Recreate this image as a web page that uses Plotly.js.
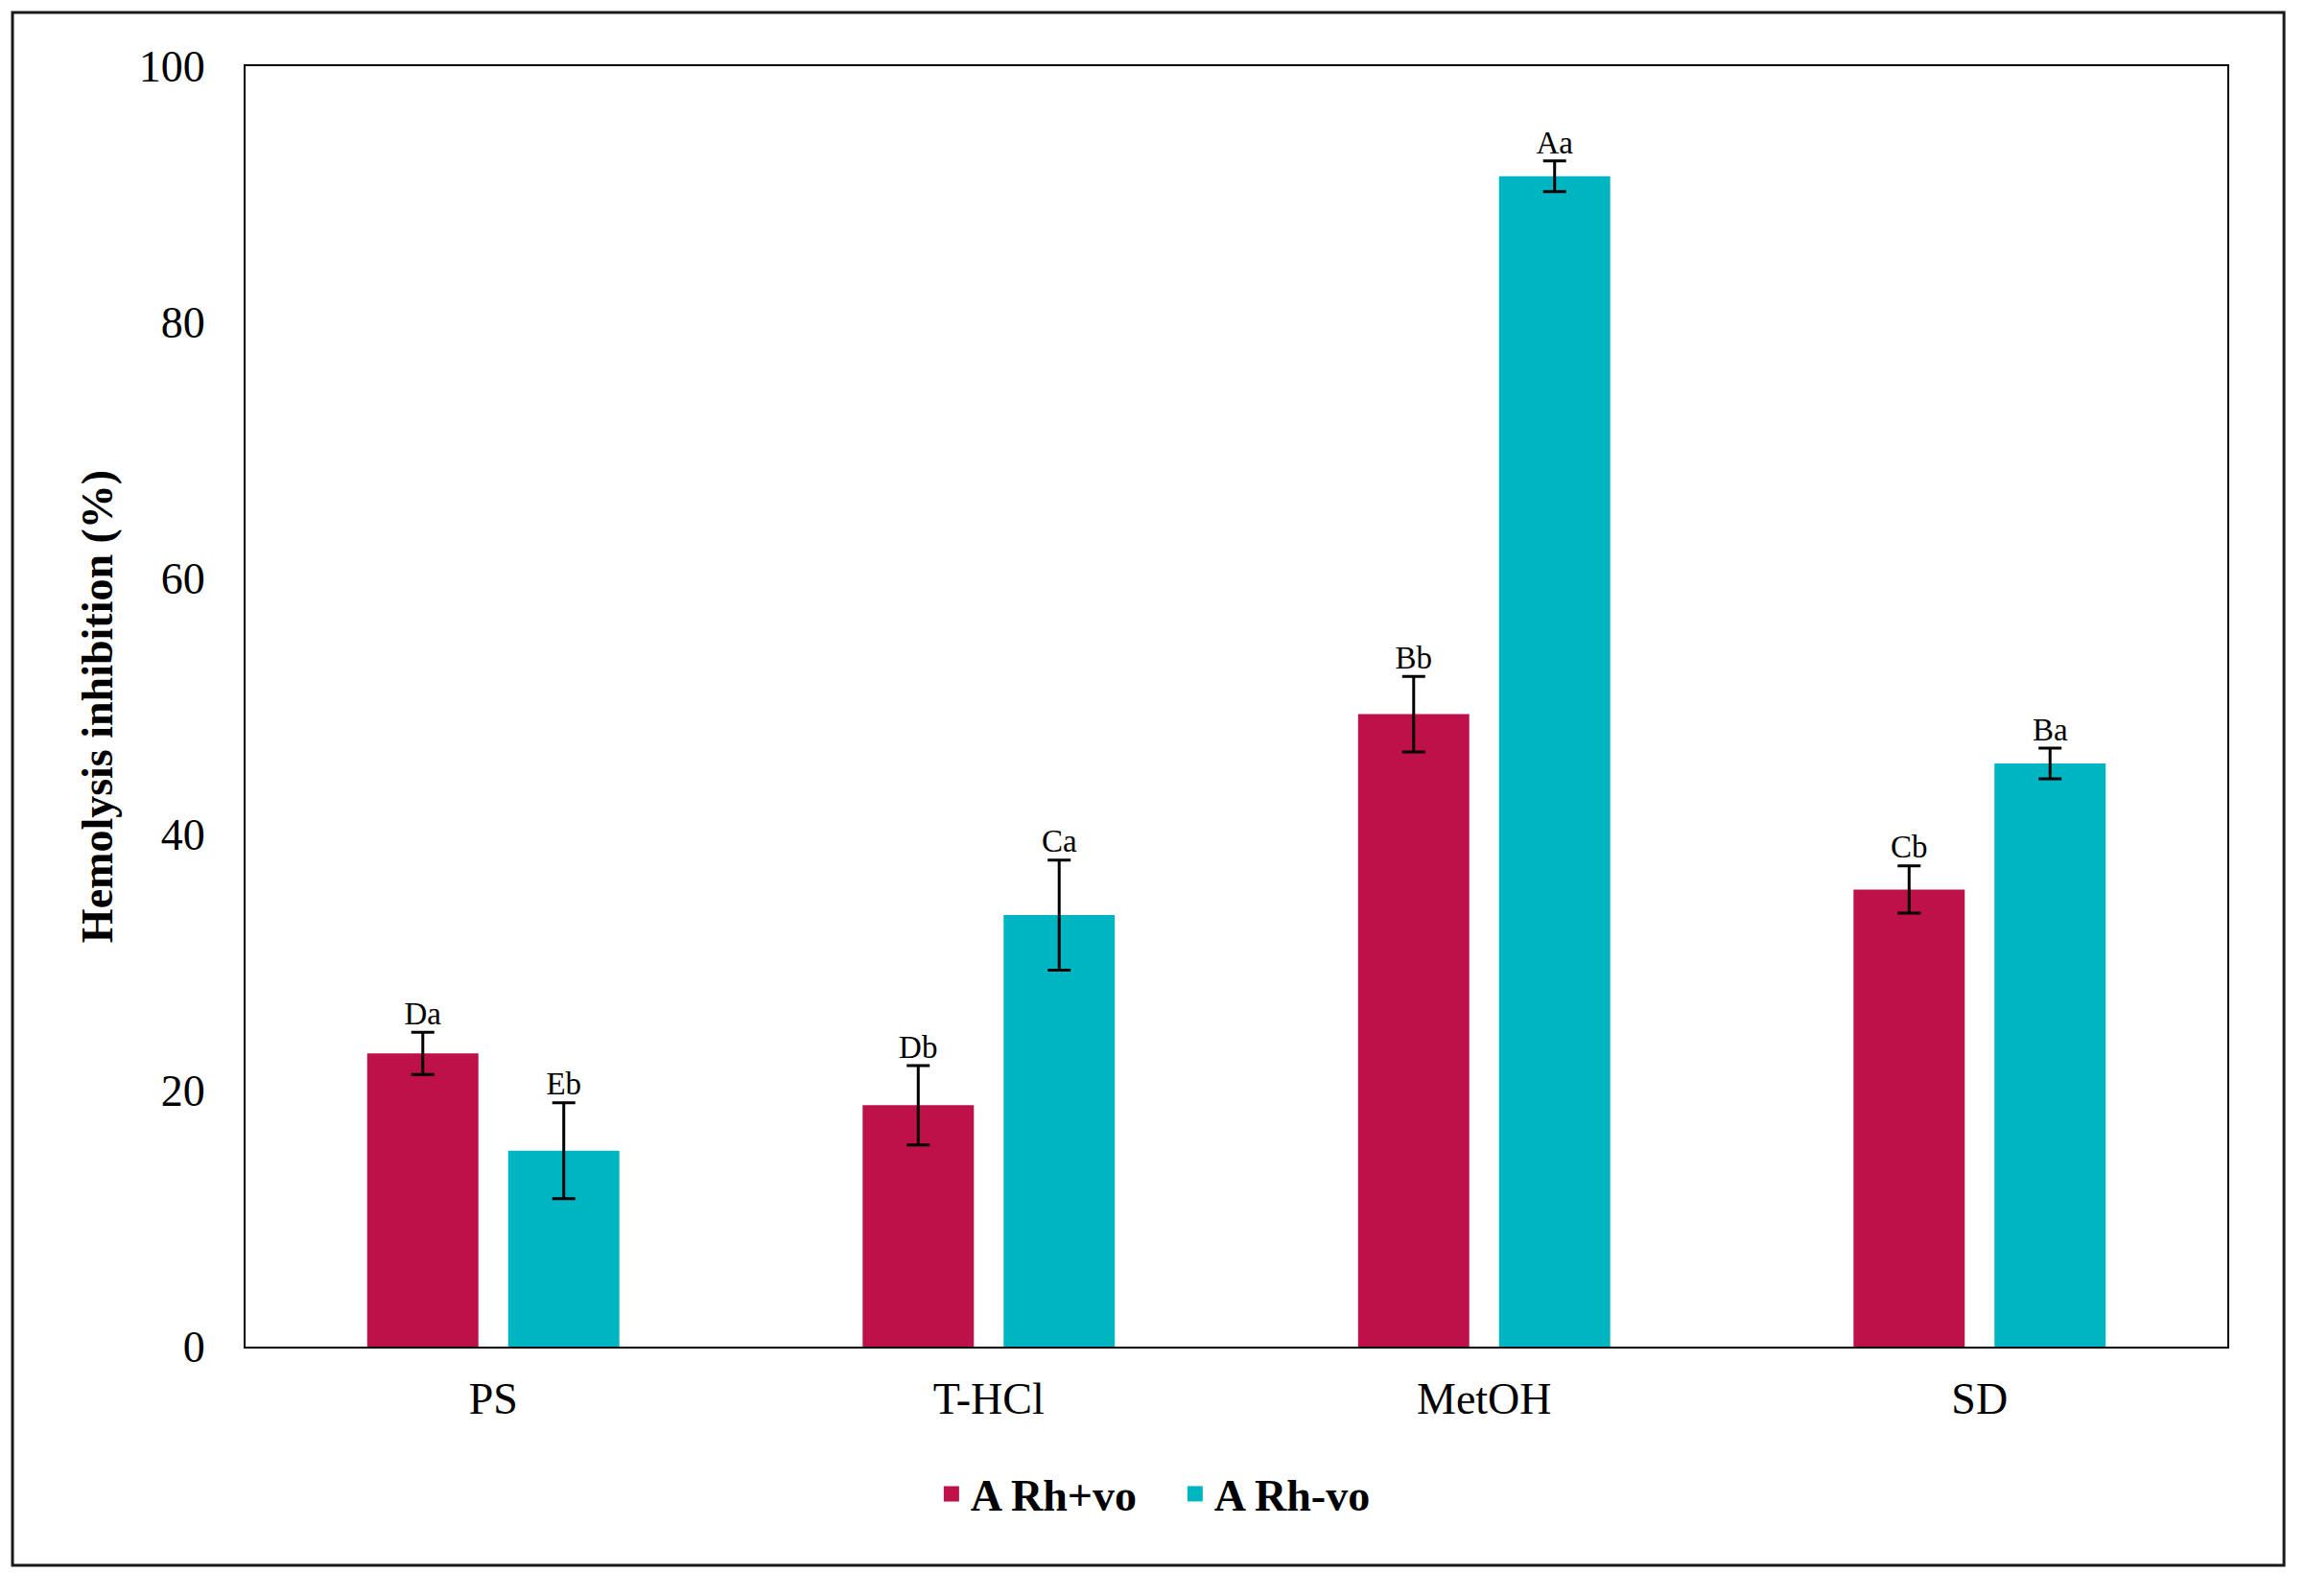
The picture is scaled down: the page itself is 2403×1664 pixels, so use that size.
<!DOCTYPE html>
<html>
<head>
<meta charset="utf-8">
<script src="https://cdn.plot.ly/plotly-3.0.1.min.js"></script>
<style>
  html, body { margin: 0; padding: 0; background: #ffffff; }
  #chart { width: 2403px; height: 1664px; }
</style>
</head>
<body>
<div id="chart"></div>
<script>
// ---- data ----
const categories = ['PS', 'T-HCl', 'MetOH', 'SD'];
const seriesNames = ['A Rh+vo', 'A Rh-vo'];
const rhPlusValues = [22.9, 18.85, 49.4, 35.7];
const rhPlusErrors = [1.65, 3.1, 2.95, 1.85];
const rhPlusLetters = ['Da', 'Db', 'Bb', 'Cb'];
const rhMinusValues = [15.3, 33.7, 91.4, 45.55];
const rhMinusErrors = [3.75, 4.3, 1.2, 1.2];
const rhMinusLetters = ['Eb', 'Ca', 'Aa', 'Ba'];
const yTickValues = [0, 20, 40, 60, 80, 100];
const yTitle = 'Hemolysis inhibition (%)';

// ---- styles ----
const serif = '"Liberation Serif", "Times New Roman", Times, serif';
const colPlus = '#BE1049';
const colMinus = '#00B5C2';

function barTrace(name, vals, errs, color, grp) {
  return {
    type: 'bar', name: name, x: categories, y: vals, offsetgroup: grp,
    marker: { color: color, line: { width: 0 } },
    error_y: { type: 'data', array: errs, visible: true, color: '#000000', thickness: 3, width: 12 },
    hoverinfo: 'skip', showlegend: false, legendgroup: name
  };
}
function legendTrace(name, color, grp) {
  return {
    type: 'scatter', mode: 'markers', name: name, x: [null], y: [null], offsetgroup: grp,
    marker: { symbol: 'square', size: 21, color: color },
    showlegend: true, legendgroup: name, hoverinfo: 'skip'
  };
}
function letterTrace(vals, errs, letters, grp) {
  return {
    type: 'scatter', mode: 'text', x: categories, offsetgroup: grp,
    y: vals.map((v, i) => v + errs[i]),
    text: letters, textposition: 'top center',
    textfont: { family: serif, size: 33, color: '#000000' },
    showlegend: false, hoverinfo: 'skip', cliponaxis: false
  };
}

const data = [
  barTrace(seriesNames[0], rhPlusValues, rhPlusErrors, colPlus, 'g1'),
  barTrace(seriesNames[1], rhMinusValues, rhMinusErrors, colMinus, 'g2'),
  letterTrace(rhPlusValues, rhPlusErrors, rhPlusLetters, 'g1'),
  letterTrace(rhMinusValues, rhMinusErrors, rhMinusLetters, 'g2'),
  legendTrace(seriesNames[0], colPlus, 'g1'),
  legendTrace(seriesNames[1], colMinus, 'g2')
];

const layout = {
  width: 2403, height: 1664,
  paper_bgcolor: '#ffffff', plot_bgcolor: '#ffffff',
  margin: { l: 256, r: 81, t: 69, b: 260 },
  font: { family: serif, size: 46, color: '#000000' },
  barmode: 'group', bargap: 0.431, bargroupgap: 0.211,
  scattermode: 'group', scattergap: 0.431,
  showlegend: true,
  legend: {
    orientation: 'h', x: 0.3465, xanchor: 'left', y: -0.115, yanchor: 'middle',
    font: { family: serif, size: 46, color: '#000000', weight: 'bold' },
    itemwidth: 30, entrywidth: 209, entrywidthmode: 'pixels',
    traceorder: 'normal', bgcolor: 'rgba(0,0,0,0)'
  },
  xaxis: {
    type: 'category', showgrid: false, zeroline: false,
    showline: true, linecolor: '#000000', linewidth: 2, mirror: true,
    ticks: '', ticklabelstandoff: 13,
    tickfont: { family: serif, size: 46, color: '#000000' }
  },
  yaxis: {
    range: [0, 100], tickvals: yTickValues, ticktext: yTickValues.map(String),
    showgrid: false, zeroline: false,
    showline: true, linecolor: '#000000', linewidth: 2, mirror: true,
    ticks: '', ticklabelstandoff: 31,
    tickfont: { family: serif, size: 46, color: '#000000' },
    title: { text: yTitle, standoff: 13, font: { family: serif, size: 46, color: '#000000', weight: 'bold' } }
  },
  shapes: [{
    type: 'rect', xref: 'paper', yref: 'paper',
    x0: -0.1176, x1: 1.0286, y0: -0.1708, y1: 1.042,
    line: { color: '#1a1a1a', width: 3 }, fillcolor: 'rgba(0,0,0,0)', layer: 'below'
  }]
};

Plotly.newPlot('chart', data, layout, { displayModeBar: false, staticPlot: true });
</script>
</body>
</html>
